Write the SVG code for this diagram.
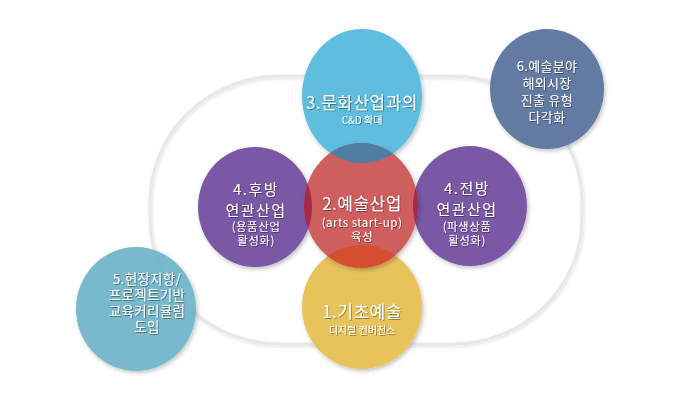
<svg xmlns="http://www.w3.org/2000/svg" width="700" height="400" viewBox="0 0 700 400">
  <defs>
    <filter id="sh" x="-20%" y="-20%" width="140%" height="140%">
      <feDropShadow dx="1.5" dy="2" stdDeviation="2" flood-color="#000" flood-opacity="0.25"/>
    </filter>
    <filter id="tsh" x="-10%" y="-30%" width="120%" height="160%">
      <feDropShadow dx="0.8" dy="0.8" stdDeviation="0.6" flood-color="#000" flood-opacity="0.45"/>
    </filter>
    <filter id="rsh" x="-10%" y="-10%" width="120%" height="120%">
      <feDropShadow dx="1" dy="1.5" stdDeviation="1.5" flood-color="#000" flood-opacity="0.12"/>
    </filter>
    <clipPath id="clipRed">
      <ellipse cx="361" cy="205.5" rx="57" ry="62.5"/>
    </clipPath>
  </defs>
  <style>
    text { font-family: "Noto Sans CJK KR", "Noto Sans", "Liberation Sans", sans-serif; fill: #ffffff; text-anchor: middle; }
    .lbl { filter: url(#tsh); }
    .big { font-size: 17px; letter-spacing: 0.5px; }
    .mid { font-size: 15px; letter-spacing: 1.5px; }
    .sm { font-size: 11.5px; letter-spacing: 0.5px; }
    .xs { font-size: 10px; }
    .n5 { font-size: 13.5px; letter-spacing: 0.3px; }
    .n6 { font-size: 13px; letter-spacing: 0.3px; }
  </style>
  <rect width="700" height="400" fill="#ffffff"/>

  <g id="connectors">
    <rect x="150" y="76" width="432" height="268" rx="130" ry="126" fill="none" stroke="#e8e8e8" stroke-width="3" filter="url(#rsh)"/>
  </g>

  <g id="node4L">
    <ellipse cx="255" cy="207" rx="57" ry="60" fill="#7a58a6" filter="url(#sh)"/>
  </g>
  <g id="node4R">
    <ellipse cx="470" cy="206" rx="57" ry="60" fill="#7a58a6" filter="url(#sh)"/>
  </g>
  <g id="node3">
    <ellipse cx="362" cy="96" rx="60" ry="67" fill="#5fbde0" filter="url(#sh)"/>
  </g>
  <g id="node1">
    <ellipse cx="362" cy="307" rx="60" ry="62" fill="#e8c35c" filter="url(#sh)"/>
  </g>
  <g id="node5">
    <ellipse cx="136" cy="309" rx="60" ry="62" fill="#70b5ca" opacity="0.94" filter="url(#sh)"/>
  </g>
  <g id="node6">
    <ellipse cx="547" cy="89" rx="57" ry="60" fill="#5a739d" opacity="0.94" filter="url(#sh)"/>
  </g>
  <g id="node2">
    <ellipse cx="361" cy="205.5" rx="57" ry="62.5" fill="#cf5f5f" filter="url(#sh)"/>
    <g clip-path="url(#clipRed)">
      <ellipse cx="362" cy="96" rx="60" ry="67" fill="#4e7ea1"/>
      <ellipse cx="255" cy="207" rx="57" ry="60" fill="#a6294a"/>
      <ellipse cx="470" cy="206" rx="57" ry="60" fill="#a6294a"/>
      <ellipse cx="362" cy="307" rx="60" ry="62" fill="#d44f30"/>
    </g>
  </g>

  <g id="labels" class="lbl">
    <text class="big" x="362" y="109">3.문화산업과의</text>
    <text class="xs" x="362" y="124">C&amp;D 확대</text>

    <text class="mid" x="256" y="195">4.후방</text>
    <text class="mid" x="256" y="216">연관산업</text>
    <text class="sm" x="256" y="231">(용품산업</text>
    <text class="sm" x="256" y="245">활성화)</text>

    <text class="big" x="362" y="210">2.예술산업</text>
    <text class="sm" x="362" y="227">(arts start-up)</text>
    <text class="sm" x="362" y="241">육성</text>

    <text class="mid" x="467" y="194">4.전방</text>
    <text class="mid" x="467" y="215">연관산업</text>
    <text class="sm" x="467" y="231">(파생상품</text>
    <text class="sm" x="467" y="245">활성화)</text>

    <text class="big" x="362" y="318">1.기초예술</text>
    <text class="xs" x="362" y="334">디지털 컨버전스</text>

    <text class="n5" x="147" y="284">5.현장지향/</text>
    <text class="n5" x="147" y="300">프로젝트기반</text>
    <text class="n5" x="147" y="316">교육커리큘럼</text>
    <text class="n5" x="147" y="332">도입</text>

    <text class="n6" x="547" y="71">6.예술분야</text>
    <text class="n6" x="547" y="88">해외시장</text>
    <text class="n6" x="547" y="105">진출 유형</text>
    <text class="n6" x="547" y="122">다각화</text>
  </g>
</svg>
